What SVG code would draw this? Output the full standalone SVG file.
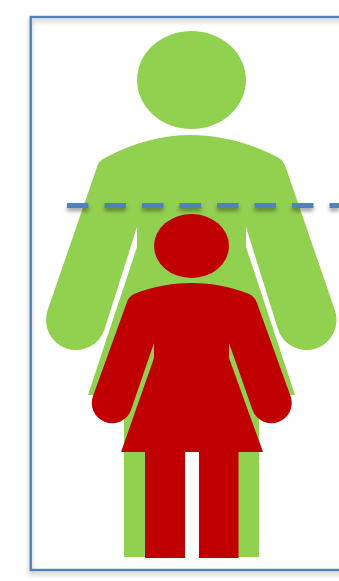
<svg xmlns="http://www.w3.org/2000/svg" width="339" height="581" viewBox="0 0 339 581">
<defs>
<filter id="sh" x="-10%" y="-10%" width="120%" height="120%" filterUnits="objectBoundingBox"><feDropShadow dx="0" dy="3" stdDeviation="2.500" flood-color="#000" flood-opacity="0.3"/></filter>
<filter id="shl" x="0" y="190" width="339" height="40" filterUnits="userSpaceOnUse"><feDropShadow dx="0" dy="3" stdDeviation="2" flood-color="#000" flood-opacity="0.4"/></filter>
<filter id="soft" x="-5%" y="-5%" width="110%" height="110%"><feGaussianBlur stdDeviation="0.4"/></filter>
</defs>
<style>
.frame{fill:none;stroke:#4f81bd;stroke-width:2.400}
.green{fill:#92d050}
.red{fill:#c00000}
.dash{fill:none;stroke:#4f81bd;stroke-width:5;stroke-dasharray:21.500 16}
</style>
<rect width="339" height="581" fill="#fff"/>
<g id="frame"><rect class="frame" x="30.700" y="17" width="340" height="553" filter="url(#sh)"/></g>
<g id="adult" filter="url(#soft)">
<ellipse class="green" cx="191.500" cy="80" rx="54.500" ry="49"/>
<path class="green" d="M97 167 C98 162 101 160 105 158 C133 142 165 135 191 135 C217 135 249 142 279 158 C282 160 284 163 286 168 L335 310.500 A30 30 0 0 1 278 329.500 L246 227 L246 247 L295 395 L259 395 L259 557 L199 557 L199 452 L185 452 L185 557 L124 557 L124 395 L88 395 L137 247 L137 227 L104.500 329.500 A30 30 0 0 1 47.500 310.500 Z"/>
</g>
<g id="connectors"><path class="dash" d="M67 205.500H339" filter="url(#shl)"/></g>
<g id="child" filter="url(#soft)">
<ellipse class="red" cx="191.500" cy="246" rx="37.500" ry="32"/>
<path class="red" d="M127 302 C128 298 131 296 134 294 C153 286 175 283 191.500 283 C208 283 230 286 249 294 C253 296 255 298 257 303 L290.500 396 A20 20 0 0 1 252.500 410 L229 343 L229 358 L263 452 L238.500 452 L238.500 558 L199 558 L199 452 L185 452 L185 558 L145 558 L145 452 L121 452 L154 358 L154 343 L131 410 A20 20 0 0 1 93 396 Z"/>
</g>
</svg>
